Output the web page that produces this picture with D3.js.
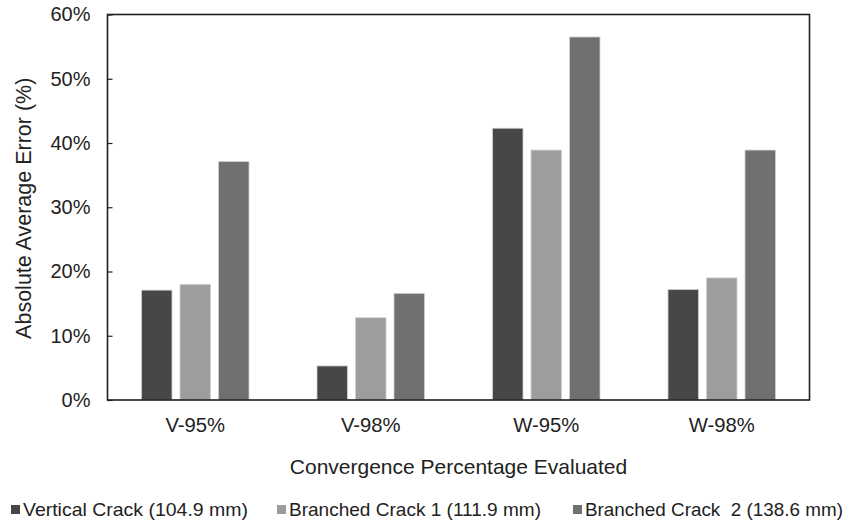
<!DOCTYPE html>
<html>
<head>
<meta charset="utf-8">
<script src="https://cdn.jsdelivr.net/npm/d3@7"></script>
<style>
  html, body { margin: 0; padding: 0; background: #fff; }
  svg { display: block; font-family: "Liberation Sans", Arial, sans-serif; }
</style>
</head>
<body>
<svg id="chart" width="844" height="523"></svg>
<script>
const categories = ["V-95%", "V-98%", "W-95%", "W-98%"];
const seriesNames = ["Vertical Crack (104.9 mm)", "Branched Crack 1 (111.9 mm)", "Branched Crack  2 (138.6 mm)"];
const verticalCrack = [0.171, 0.053, 0.423, 0.172];
const branchedCrack1 = [0.180, 0.128, 0.389, 0.190];
const branchedCrack2 = [0.371, 0.166, 0.565, 0.389];
const yTicks = [0, 0.1, 0.2, 0.3, 0.4, 0.5, 0.6];
const colors = ["#474747", "#9d9d9d", "#707070"];

const seriesValues = [verticalCrack, branchedCrack1, branchedCrack2];

const svg = d3.select("#chart");
const mLeft = 107.5, mRight = 809.5, mTop = 14.5, mBottom = 400;

const x0 = d3.scaleBand().domain(categories).range([mLeft, mRight])
  .paddingInner(0.3875).paddingOuter(0.3875 / 2);
const x1 = d3.scaleBand().domain(d3.range(3)).range([0, x0.bandwidth()])
  .paddingInner(0.208).paddingOuter(0);
const y = d3.scaleLinear().domain([0, 0.6]).range([mBottom, mTop]);

// bars
const groups = svg.append("g").selectAll("g").data(categories).join("g")
  .attr("transform", d => `translate(${x0(d)},0)`);
groups.selectAll("rect").data((c, ci) => seriesValues.map((s, si) => ({ si, v: s[ci] })))
  .join("rect")
  .attr("x", d => x1(d.si))
  .attr("width", x1.bandwidth())
  .attr("y", d => y(d.v))
  .attr("height", d => mBottom - y(d.v))
  .attr("fill", d => colors[d.si])
  .attr("stroke", "#d0d0d0")
  .attr("stroke-width", 0.8);

// y axis (ticks inward)
const yAxis = d3.axisLeft(y).tickValues(yTicks).tickFormat(d3.format(".0%")).tickSize(-5).tickPadding(17);
const gy = svg.append("g").attr("transform", `translate(${mLeft},0)`).call(yAxis);
gy.select(".domain").remove();
gy.selectAll(".tick line").attr("stroke", "#222").attr("stroke-width", 1.2);
gy.selectAll("text").attr("font-size", 20).attr("fill", "#222").attr("font-family", "Liberation Sans, Arial, sans-serif");

// x axis labels
const xAxis = d3.axisBottom(x0).tickSize(0).tickPadding(18);
const gx = svg.append("g").attr("transform", `translate(0,${mBottom})`).call(xAxis);
gx.select(".domain").remove();
gx.selectAll("text").attr("font-size", 20.3).attr("fill", "#222").attr("font-family", "Liberation Sans, Arial, sans-serif");

// frame
svg.append("rect").attr("x", mLeft).attr("y", mTop).attr("width", mRight - mLeft).attr("height", mBottom - mTop)
  .attr("fill", "none").attr("stroke", "#1e1e1e").attr("stroke-width", 1.6);

// axis titles
svg.append("text").attr("x", (mLeft + mRight) / 2).attr("y", 474).attr("text-anchor", "middle")
  .attr("font-size", 21).attr("fill", "#222").text("Convergence Percentage Evaluated");
svg.append("text").attr("transform", `translate(31,${(mTop + mBottom) / 2 + 1}) rotate(-90)`)
  .attr("text-anchor", "middle").attr("font-size", 21.5).attr("fill", "#222")
  .text("Absolute Average Error (%)");

// legend (layout only)
const legendX = [11, 277, 573];
const legendTextLen = [225, 252, 258];
const lg = svg.append("g").selectAll("g").data(seriesNames).join("g")
  .attr("transform", (d, i) => `translate(${legendX[i]},0)`);
lg.append("rect").attr("x", 0).attr("y", 505).attr("width", 9).attr("height", 9)
  .attr("fill", (d, i) => colors[i]);
lg.append("text").attr("x", 12).attr("y", 515.5).attr("font-size", 18.5).attr("fill", "#222")
  .attr("textLength", (d, i) => legendTextLen[i]).attr("lengthAdjust", "spacingAndGlyphs")
  .style("white-space", "pre").attr("xml:space", "preserve").text(d => d);
</script>
</body>
</html>
